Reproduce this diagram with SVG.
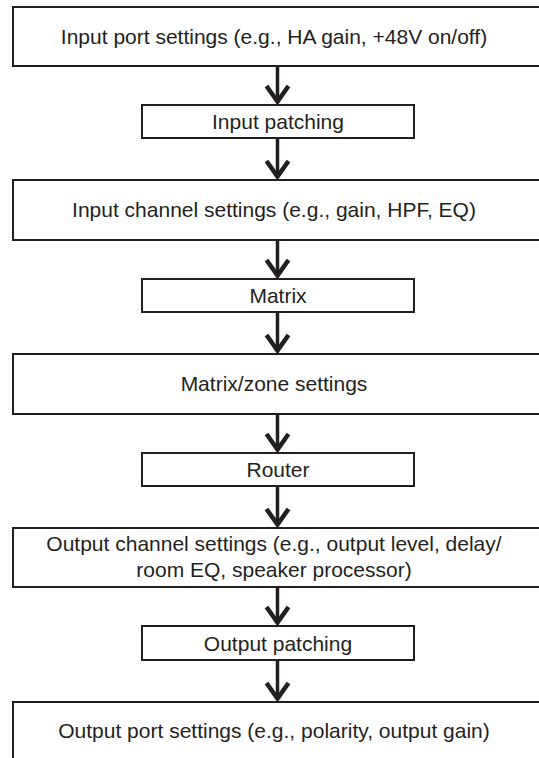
<svg xmlns="http://www.w3.org/2000/svg" width="539" height="758" viewBox="0 0 539 758">
<style>
.box{fill:#fff;stroke:#231f20;stroke-width:2}
.lbl{font-family:"Liberation Sans",Arial,sans-serif;font-size:21px;fill:#231f20;text-anchor:middle}
.conn{stroke:#231f20;stroke-width:3.5;fill:none}
</style>
<defs>
<marker id="chev" markerUnits="userSpaceOnUse" markerWidth="30" markerHeight="30" refX="0" refY="0" orient="auto" overflow="visible">
<path d="M-15.5,-11 L0,0 L-15.5,11" fill="none" stroke="#231f20" stroke-width="4.5" stroke-linejoin="miter" stroke-miterlimit="10"/>
</marker>
</defs>
<rect width="539" height="758" fill="#fff"/>
<g id="connectors">
<line class="conn" x1="277.5" y1="66" x2="277.5" y2="101.5" marker-end="url(#chev)"/>
<line class="conn" x1="277.5" y1="138" x2="277.5" y2="176.5" marker-end="url(#chev)"/>
<line class="conn" x1="277.5" y1="240" x2="277.5" y2="275.5" marker-end="url(#chev)"/>
<line class="conn" x1="277.5" y1="312" x2="277.5" y2="350.5" marker-end="url(#chev)"/>
<line class="conn" x1="277.5" y1="414" x2="277.5" y2="449.5" marker-end="url(#chev)"/>
<line class="conn" x1="277.5" y1="486" x2="277.5" y2="524.5" marker-end="url(#chev)"/>
<line class="conn" x1="277.5" y1="587" x2="277.5" y2="622.5" marker-end="url(#chev)"/>
<line class="conn" x1="277.5" y1="660" x2="277.5" y2="698.5" marker-end="url(#chev)"/>
</g>
<g id="input-port">
<rect class="box" x="13" y="7" width="540" height="59"/>
<text class="lbl" x="274" y="44">Input port settings (e.g., HA gain, +48V on/off)</text>
</g>
<g id="input-patching">
<rect class="box" x="142" y="105" width="272" height="33"/>
<text class="lbl" x="278" y="129">Input patching</text>
</g>
<g id="input-channel">
<rect class="box" x="13" y="180" width="540" height="60"/>
<text class="lbl" x="274" y="217">Input channel settings (e.g., gain, HPF, EQ)</text>
</g>
<g id="matrix">
<rect class="box" x="142" y="279" width="272" height="33"/>
<text class="lbl" x="278" y="303">Matrix</text>
</g>
<g id="matrix-zone">
<rect class="box" x="13" y="354" width="540" height="60"/>
<text class="lbl" x="274" y="391">Matrix/zone settings</text>
</g>
<g id="router">
<rect class="box" x="142" y="453" width="272" height="33"/>
<text class="lbl" x="278" y="477">Router</text>
</g>
<g id="output-channel">
<rect class="box" x="13" y="528" width="540" height="59"/>
<text class="lbl" x="274" y="551">Output channel settings (e.g., output level, delay/</text>
<text class="lbl" x="274" y="577">room EQ, speaker processor)</text>
</g>
<g id="output-patching">
<rect class="box" x="142" y="626" width="272" height="34"/>
<text class="lbl" x="278" y="651">Output patching</text>
</g>
<g id="output-port">
<rect class="box" x="13" y="702" width="540" height="70"/>
<text class="lbl" x="274" y="738">Output port settings (e.g., polarity, output gain)</text>
</g>
</svg>
